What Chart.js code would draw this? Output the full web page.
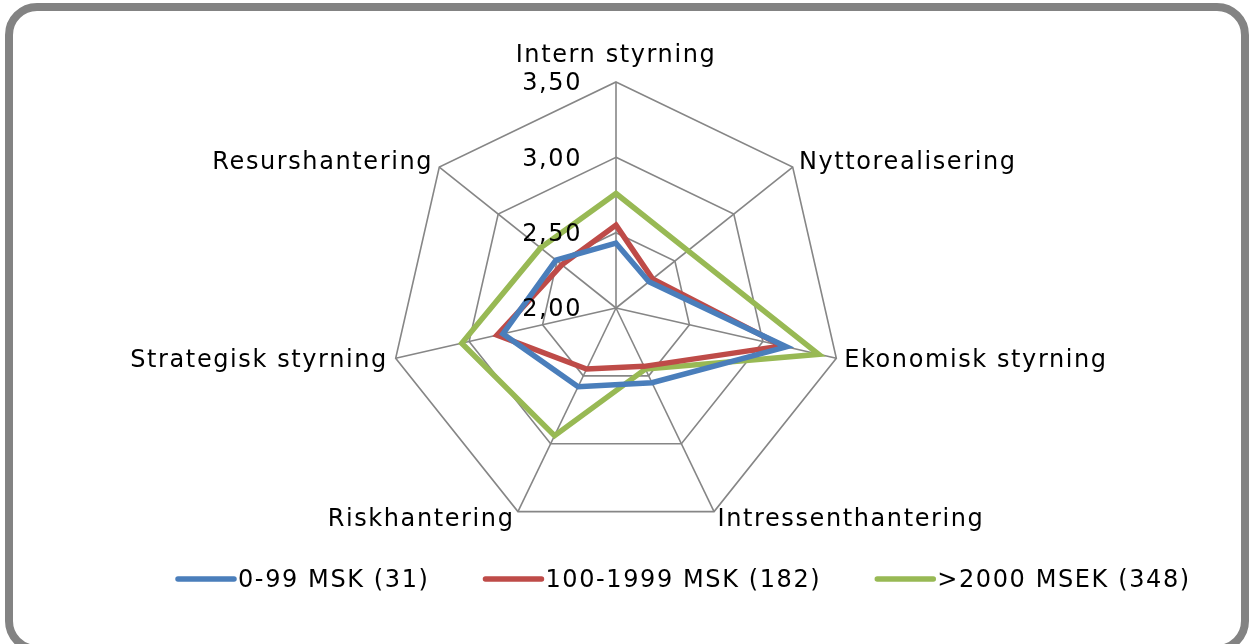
<!DOCTYPE html>
<html>
<head>
<meta charset="utf-8">
<script src="https://cdn.jsdelivr.net/npm/chart.js@4/dist/chart.umd.min.js"></script>
<style>
  body { margin: 0; background: #fff; }
  #wrap { position: relative; width: 1251px; height: 644px; overflow: hidden; background: #fff; }
  #frame { position: absolute; left: 5px; top: 3px; width: 1244px; height: 650px; box-sizing: border-box;
           border: 8px solid #838383; border-radius: 32px; }
  #myChart { position: absolute; left: 0; top: 0; }
</style>
</head>
<body>
<div id="wrap">
  <div id="frame"></div>
  <canvas id="myChart" width="1251" height="644"></canvas>
</div>
<script>
var categories = ['Intern styrning', 'Nyttorealisering', 'Ekonomisk styrning', 'Intressenthantering',
    'Riskhantering', 'Strategisk styrning', 'Resurshantering'];
var seriesNames = ['0-99 MSK (31)', '100-1999 MSK (182)', '>2000 MSEK (348)'];
var small = [2.43, 2.28, 3.16, 2.55, 2.58, 2.77, 2.51];
var medium = [2.55, 2.31, 3.13, 2.43, 2.45, 2.81, 2.46];
var large = [2.76, 2.61, 3.38, 2.45, 2.94, 3.05, 2.64];
var tickValues = [2.00, 2.50, 3.00, 3.50];
var colors = ['#4a7ebb', '#be4b48', '#98b954'];

var FONT = '24px "DejaVu Sans", Verdana, sans-serif';

// axis labels, tick labels and legend drawn by hand to get the Excel look
var excelText = {
    id: 'excelText',
    afterDatasetsDraw: function (chart) {
        var ctx = chart.ctx;
        var r = chart.scales.r;
        ctx.save();
        ctx.font = FONT;
        ctx.fillStyle = '#000';
        ctx.letterSpacing = '1.6px';

        // tick labels, left of the vertical axis
        ctx.textAlign = 'right';
        ctx.textBaseline = 'middle';
        tickValues.forEach(function (v) {
            var d = r.getDistanceFromCenterForValue(v);
            ctx.fillText(v.toFixed(2).replace('.', ','), r.xCenter - 34, r.yCenter - d + 2);
        });

        // category labels
        categories.forEach(function (label, i) {
            var p;
            if (i === 0) {
                p = r.getPointPosition(i, r.drawingArea + 27);
                ctx.textAlign = 'center';
            } else {
                p = r.getPointPosition(i, r.drawingArea + 8);
                ctx.textAlign = p.x > r.xCenter ? 'left' : 'right';
            }
            ctx.fillText(label, p.x, p.y + 1);
        });

        // legend
        var x = 178, y = 579;
        ctx.textAlign = 'left';
        ctx.lineCap = 'round';
        ctx.lineWidth = 5.5;
        seriesNames.forEach(function (name, i) {
            ctx.strokeStyle = colors[i];
            ctx.beginPath();
            ctx.moveTo(x, y);
            ctx.lineTo(x + 56, y);
            ctx.stroke();
            ctx.fillText(name, x + 60, y + 2);
            x += 60 + ctx.measureText(name).width + 56;
        });
        ctx.restore();
    }
};

window.onload = function () {
    var ctx = document.getElementById('myChart').getContext('2d');
    var data = [small, medium, large];
    var config = {
        type: 'radar',
        data: {
            labels: categories,
            datasets: seriesNames.map(function (name, i) {
                return {
                    label: name,
                    data: data[i],
                    borderColor: colors[i],
                    backgroundColor: colors[i],
                    borderWidth: 5.5,
                    pointRadius: 0,
                    fill: false
                };
            })
        },
        options: {
            responsive: false,
            animation: false,
            layout: {
                padding: { left: 390, right: 409, top: 82, bottom: 110 }
            },
            plugins: {
                legend: { display: false },
                tooltip: { enabled: false }
            },
            scales: {
                r: {
                    min: 2,
                    max: 3.5,
                    ticks: { display: false, stepSize: 0.5 },
                    grid: { color: '#868686', lineWidth: 1.6 },
                    angleLines: { color: '#868686', lineWidth: 1.6 },
                    pointLabels: { display: false }
                }
            }
        },
        plugins: [excelText]
    };
    window.myRadar = new Chart(ctx, config);
};
</script>
</body>
</html>
